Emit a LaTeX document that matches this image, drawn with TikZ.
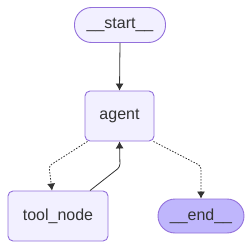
\documentclass[tikz,border=0pt]{standalone}
\usepackage{fontspec}
\setmainfont{Liberation Sans}
\usetikzlibrary{arrows.meta}
\definecolor{nodefill}{HTML}{F2F0FF}
\definecolor{nodeline}{HTML}{9370DB}
\definecolor{endfill}{HTML}{BFB6FC}
\definecolor{txt}{HTML}{333333}
\begin{document}
\begin{tikzpicture}[x=1pt,y=-1pt,
  base/.style={draw=nodeline, line width=0.9pt, fill=nodefill, text=txt, font=\fontsize{16}{19}\selectfont, inner sep=0pt, anchor=center},
  boxnode/.style={base, rounded corners=5pt},
  pill/.style={base, rounded corners=17pt},
  conn/.style={draw=txt, line width=0.8pt, -{Latex[length=7pt,width=8pt]}},
  dotconn/.style={conn, dash pattern=on 1.5pt off 1.5pt}
]
\useasboundingbox (0,0) rectangle (252,249);
\node[pill, minimum width=91pt, minimum height=35pt] (start) at (120,25) {\_\_start\_\_};
\node[boxnode, minimum width=69pt, minimum height=50pt] (agent) at (119.5,116) {agent};
\node[boxnode, minimum width=100pt, minimum height=50pt] (tool) at (58,216) {tool\_node};
\node[pill, fill=endfill, minimum width=86pt, minimum height=34pt] (end) at (201,216) {\_\_end\_\_};
\draw[conn] (start.south) -- (agent.north);
\draw[dotconn, rounded corners=3pt] ([xshift=-32pt]agent.south) -- (49,166) -- ([xshift=-6pt]tool.north);
\draw[conn, rounded corners=3pt] ([xshift=32pt]tool.north) -- (120,167) -- (agent.south);
\draw[dotconn, rounded corners=3pt] ([xshift=34pt]agent.south) -- (201,166) -- (end.north);
\end{tikzpicture}
\end{document}
